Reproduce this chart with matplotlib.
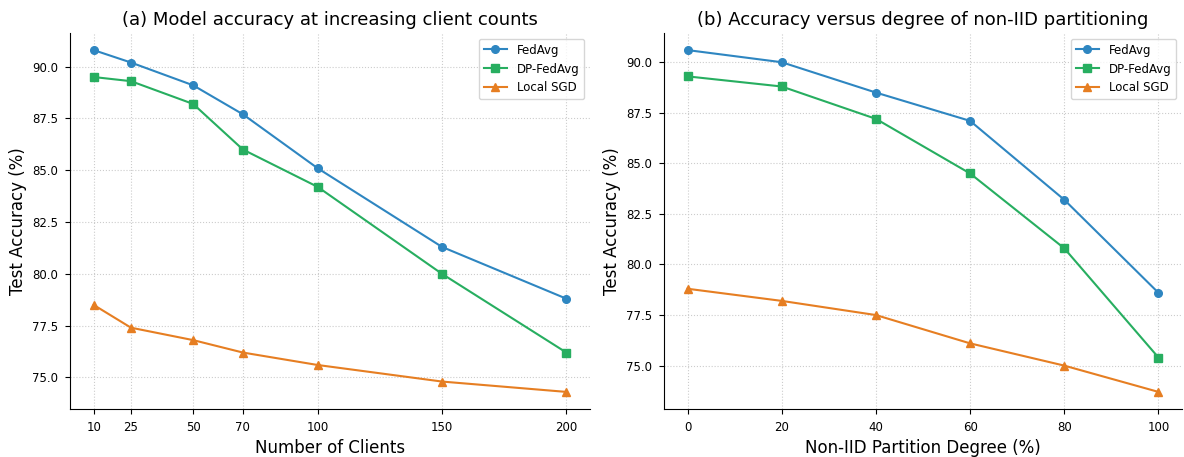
import matplotlib
matplotlib.use("Agg")
import matplotlib.pyplot as plt

# panel (a): client counts
clients = [10, 25, 50, 70, 100, 150, 200]
fedavg_a = [90.8, 90.2, 89.1, 87.7, 85.1, 81.3, 78.8]
dpfedavg_a = [89.5, 89.3, 88.2, 86.0, 84.2, 80.0, 76.2]
localsgd_a = [78.5, 77.4, 76.8, 76.2, 75.6, 74.8, 74.3]

# panel (b): non-IID degree
noniid = [0, 20, 40, 60, 80, 100]
fedavg_b = [90.6, 90.0, 88.5, 87.1, 83.2, 78.6]
dpfedavg_b = [89.3, 88.8, 87.2, 84.5, 80.8, 75.4]
localsgd_b = [78.8, 78.2, 77.5, 76.1, 75.0, 73.7]

colors = {"FedAvg": "#2E86C1", "DP-FedAvg": "#27AE60", "Local SGD": "#E67E22"}
markers = {"FedAvg": "o", "DP-FedAvg": "s", "Local SGD": "^"}

W, H = 1184, 457
fig = plt.figure(figsize=(W / 100, H / 100), dpi=100)
ax1 = fig.add_axes([70 / W, 48 / H, 520 / W, 376 / H])
ax2 = fig.add_axes([664 / W, 48 / H, 518 / W, 376 / H])


def draw(ax, x, series, title, xlabel):
    for name, y in series:
        ax.plot(x, y, marker=markers[name], color=colors[name], label=name,
                linewidth=1.5, markersize=5.5)
    ax.set_title(title, fontsize=13)
    ax.set_xlabel(xlabel, fontsize=12)
    ax.set_ylabel("Test Accuracy (%)", fontsize=12)
    ax.set_xticks(x)
    ax.tick_params(labelsize=8.5, pad=5)
    ax.grid(True, linestyle=":", color="#cccccc", linewidth=0.8)
    ax.spines["top"].set_visible(False)
    ax.spines["right"].set_visible(False)
    ax.legend(loc="upper right", fontsize=8.5)


draw(ax1, clients,
     [("FedAvg", fedavg_a), ("DP-FedAvg", dpfedavg_a), ("Local SGD", localsgd_a)],
     "(a) Model accuracy at increasing client counts", "Number of Clients")
draw(ax2, noniid,
     [("FedAvg", fedavg_b), ("DP-FedAvg", dpfedavg_b), ("Local SGD", localsgd_b)],
     "(b) Accuracy versus degree of non-IID partitioning", "Non-IID Partition Degree (%)")

fig.savefig("out.png", dpi=100)
